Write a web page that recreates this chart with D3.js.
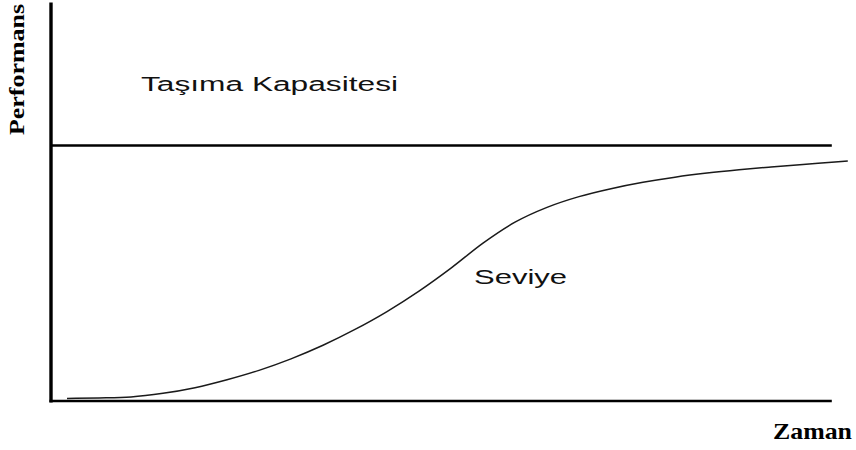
<!DOCTYPE html>
<html>
<head>
<meta charset="utf-8">
<script src="https://cdn.jsdelivr.net/npm/d3@7/dist/d3.min.js"></script>
<style>
  html, body { margin: 0; padding: 0; background: #fff; }
  svg { display: block; }
</style>
</head>
<body>
<svg id="chart" width="856" height="450"></svg>
<script>
// Logistic growth of performance over time, levelling off under the carrying capacity
const time  = [2, 6, 10, 14, 18, 22, 26, 30, 34, 38, 42, 46, 50, 54, 58, 62, 66, 70, 74, 78, 82, 86, 90, 94, 98, 99.6];
const level = [1.0, 1.2, 1.6, 3.0, 5.2, 8.3, 12.0, 16.5, 21.8, 28.0, 35.0, 43.0, 52.0, 61.8, 70.0, 75.8, 80.0, 83.1, 85.6, 87.6, 89.2, 90.5, 91.6, 92.6, 93.5, 93.9];
const capacity = 100;
const axisEnd = { time: 97.6, perf: 156 };

const labels = {
  y: "Performans",
  x: "Zaman",
  capacity: "Taşıma Kapasitesi",
  level: "Seviye"
};

const svg = d3.select("#chart");

const x = d3.scaleLinear().domain([0, 100]).range([51, 851]);
const y = d3.scaleLinear().domain([0, 100]).range([401, 145.5]);

const points = time.map((t, i) => [t, level[i]]);

// axes drawn as plain lines (no ticks)
svg.append("line")
  .attr("x1", x(0)).attr("x2", x(0))
  .attr("y1", y(axisEnd.perf)).attr("y2", y(0) + 1.5)
  .attr("stroke", "#000").attr("stroke-width", 3.4);

svg.append("line")
  .attr("x1", x(0) - 1.5).attr("x2", x(axisEnd.time))
  .attr("y1", y(0)).attr("y2", y(0))
  .attr("stroke", "#000").attr("stroke-width", 2.4);

// carrying capacity
svg.append("line")
  .attr("x1", x(0)).attr("x2", x(axisEnd.time))
  .attr("y1", y(capacity)).attr("y2", y(capacity))
  .attr("stroke", "#000").attr("stroke-width", 2.7);

// performance level curve
const line = d3.line()
  .x(d => x(d[0]))
  .y(d => y(d[1]))
  .curve(d3.curveMonotoneX);

svg.append("path")
  .datum(points)
  .attr("d", line)
  .attr("fill", "none")
  .attr("stroke", "#1a1a1a")
  .attr("stroke-width", 1.5);

// texts
svg.append("text")
  .attr("x", 141).attr("y", 91)
  .attr("font-family", "'Liberation Sans', Arial, sans-serif")
  .attr("font-size", 20)
  .attr("fill", "#111")
  .attr("textLength", 257)
  .attr("lengthAdjust", "spacingAndGlyphs")
  .text(labels.capacity);

svg.append("text")
  .attr("x", 474).attr("y", 284)
  .attr("font-family", "'Liberation Sans', Arial, sans-serif")
  .attr("font-size", 20)
  .attr("fill", "#111")
  .attr("textLength", 93)
  .attr("lengthAdjust", "spacingAndGlyphs")
  .text(labels.level);

svg.append("text")
  .attr("x", 773).attr("y", 438.5)
  .attr("font-family", "'Liberation Serif', 'Times New Roman', serif")
  .attr("font-weight", "bold")
  .attr("font-size", 23)
  .attr("fill", "#000")
  .attr("textLength", 79)
  .attr("lengthAdjust", "spacingAndGlyphs")
  .text(labels.x);

svg.append("text")
  .attr("transform", "translate(24,135) rotate(-90)")
  .attr("font-family", "'Liberation Serif', 'Times New Roman', serif")
  .attr("font-weight", "bold")
  .attr("font-size", 20)
  .attr("fill", "#000")
  .attr("textLength", 131)
  .attr("lengthAdjust", "spacingAndGlyphs")
  .text(labels.y);
</script>
</body>
</html>
